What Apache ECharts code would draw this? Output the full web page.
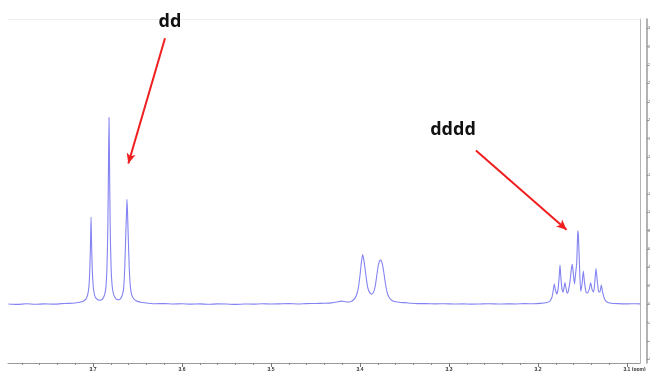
<!DOCTYPE html>
<html>
<head>
<meta charset="utf-8">
<script src="https://cdn.jsdelivr.net/npm/echarts@6/dist/echarts.min.js"></script>
<style>
  html, body { margin: 0; padding: 0; background: #fff; }
  #chart { width: 650px; height: 371px; }
</style>
</head>
<body>
<div id="chart"></div>
<script>
// 1H NMR trace: chemical shift (ppm) and intensity, read point by point
const shift = [
  3.795, 3.785, 3.775, 3.765, 3.755, 3.745, 3.735, 3.727, 3.720, 3.715,
  3.711, 3.708, 3.706, 3.7045, 3.7035, 3.7027, 3.7022, 3.7017, 3.7009, 3.6998,
  3.6985, 3.697, 3.695, 3.693, 3.691, 3.689, 3.687, 3.6855, 3.6843, 3.6833,
  3.6826, 3.682, 3.6814, 3.6807, 3.6797, 3.6785, 3.677, 3.675, 3.673, 3.671,
  3.669, 3.667, 3.6655, 3.6643, 3.6632, 3.6623, 3.6618, 3.6612, 3.6603, 3.6592,
  3.658, 3.6565, 3.654, 3.650, 3.645, 3.638, 3.630, 3.620, 3.610, 3.600,
  3.590, 3.580, 3.570, 3.560, 3.550, 3.540, 3.530, 3.520, 3.510, 3.500,
  3.490, 3.480, 3.470, 3.460, 3.450, 3.440, 3.432, 3.426, 3.421, 3.416,
  3.412, 3.409, 3.406, 3.4035, 3.4015, 3.3998, 3.3985, 3.397, 3.3955, 3.394,
  3.3925, 3.391, 3.389, 3.387, 3.385, 3.383, 3.381, 3.3795, 3.378, 3.3767,
  3.375, 3.3735, 3.372, 3.3705, 3.369, 3.367, 3.364, 3.360, 3.355, 3.349,
  3.343, 3.335, 3.325, 3.315, 3.305, 3.295, 3.285, 3.275, 3.265, 3.255,
  3.245, 3.235, 3.225, 3.215, 3.205, 3.197, 3.191, 3.187, 3.1845, 3.183,
  3.1817, 3.1805, 3.179, 3.1775, 3.1762, 3.1753, 3.1744, 3.173, 3.1718, 3.1706,
  3.1697, 3.1687, 3.1672, 3.166, 3.164, 3.1625, 3.1615, 3.1605, 3.159, 3.1583,
  3.1565, 3.1555, 3.1551, 3.1545, 3.1535, 3.152, 3.1505, 3.1491, 3.1478, 3.146,
  3.1445, 3.1425, 3.1408, 3.1393, 3.1375, 3.1362, 3.1348, 3.1335, 3.132, 3.1305,
  3.1289, 3.1272, 3.125, 3.122, 3.118, 3.110, 3.100, 3.090, 3.085
];
const intensity = [
  0.2, -0.3, 0.4, -0.2, 0.3, 0.0, 0.5, 0.8, 1.3, 2.0,
  3.2, 5.5, 10, 20, 40, 70, 94.6, 70, 40, 20,
  11, 7, 5, 4.3, 4.5, 6, 10, 18, 40, 85,
  150, 203, 150, 85, 40, 20, 11, 7, 5, 4.8,
  6, 10, 18, 40, 75, 100, 114, 100, 70, 38,
  19, 10, 5.5, 3, 1.8, 1.0, 0.4, 0.6, 0.1, 0.4,
  0.0, 0.3, -0.2, 0.3, 0.1, -0.3, 0.2, 0.0, 0.4, 0.1,
  0.3, 0.5, 0.2, 0.6, 0.7, 1.0, 1.4, 2.3, 3.3, 2.6,
  2.4, 3.5, 6, 11, 20, 33, 45, 54, 47, 36,
  25, 17, 12.5, 10.9, 12.5, 19, 32, 42, 47, 47.8,
  44, 36, 26, 17, 11, 7, 4, 2.5, 1.8, 1.6,
  1.0, 0.6, 0.5, 0.3, 0.4, 0.1, 0.3, 0.0, 0.2, 0.4,
  0.1, 0.3, 0.2, 0.5, 0.4, 0.8, 1.5, 3, 7, 14,
  21.7, 16, 11, 16, 30, 42.4, 30, 16, 13, 19,
  23.6, 18, 12, 14, 25, 38, 43.2, 35, 22, 28,
  45, 75, 79.7, 72, 45, 14, 22, 35.9, 24, 13,
  12, 16, 23.2, 16, 13, 24, 38.8, 26, 14, 13,
  20.7, 12, 5, 2, 1, 0.5, 0.3, 0.4, 0.3
];

// Axis tick positions
const ppmLabels = [3.1, 3.2, 3.3, 3.4, 3.5, 3.6, 3.7];
const ppmTicks = [
  3.10, 3.12, 3.14, 3.16, 3.18, 3.20, 3.22, 3.24, 3.26, 3.28,
  3.30, 3.32, 3.34, 3.36, 3.38, 3.40, 3.42, 3.44, 3.46, 3.48,
  3.50, 3.52, 3.54, 3.56, 3.58, 3.60, 3.62, 3.64, 3.66, 3.68,
  3.70, 3.72, 3.74, 3.76, 3.78
];
const intensityTicks = [-60, -40, -20, 0, 20, 40, 60, 80, 100, 120, 140, 160, 180, 200, 220, 240, 260, 280, 300];

// Multiplicity labels and the arrows pointing at their peaks
const multiplets = ['dd', 'dddd'];

const X_MIN = 3.0854, X_MAX = 3.7955;
const Y_MIN = -64, Y_MAX = 310;
const RED = '#f01e1e';
const TRACE = '#8383f2';

const chart = echarts.init(document.getElementById('chart'), null, { renderer: 'canvas' });

const baseX = {
  type: 'value', inverse: true, min: X_MIN, max: X_MAX,
  splitLine: { show: false }
};

chart.setOption({
  animation: false,
  backgroundColor: '#fff',
  grid: { left: 8, right: 10, top: 19, bottom: 8, containLabel: false, outerBoundsMode: 'none' },
  xAxis: [
    Object.assign({}, baseX, {
      position: 'bottom',
      axisLine: { show: true, onZero: false, lineStyle: { color: '#9a9a9a', width: 1 } },
      axisTick: { show: true, customValues: ppmTicks, length: 2, lineStyle: { color: '#8a8a8a' } },
      axisLabel: { show: false }
    }),
    Object.assign({}, baseX, {
      position: 'bottom',
      axisLine: { show: false, onZero: false },
      axisTick: { show: true, customValues: ppmLabels, length: 4, lineStyle: { color: '#777' } },
      axisLabel: {
        show: true, customValues: ppmLabels, margin: 4,
        fontSize: 5, fontWeight: 'bold', color: '#333', fontFamily: 'Arial, Liberation Sans, sans-serif',
        formatter: v => Math.abs(v - 3.1) < 1e-6 ? '{u|3.1 (ppm)}' : v.toFixed(1),
        rich: { u: { fontSize: 5, fontWeight: 'bold', color: '#333', padding: [0, 0, 0, 15] } }
      }
    }),
    Object.assign({}, baseX, {
      position: 'top',
      axisLine: { show: true, onZero: false, lineStyle: { color: '#eeeeee', width: 1 } },
      axisTick: { show: false },
      axisLabel: { show: false }
    })
  ],
  yAxis: [
    {
      type: 'value', position: 'right', offset: 7, min: Y_MIN, max: Y_MAX,
      splitLine: { show: false },
      axisLine: { show: true, onZero: false, lineStyle: { color: '#9a9a9a', width: 1.5 } },
      axisTick: { show: true, customValues: intensityTicks, length: 1.5, inside: false, lineStyle: { color: '#888' } },
      axisLabel: { show: true, customValues: intensityTicks, margin: 1, fontSize: 4, color: '#666' }
    },
    {
      type: 'value', position: 'right', offset: 0, min: Y_MIN, max: Y_MAX,
      splitLine: { show: false },
      axisLine: { show: true, onZero: false, lineStyle: { color: '#b5b5b5', width: 1 } },
      axisTick: { show: false },
      axisLabel: { show: false }
    }
  ],
  series: [{
    type: 'line',
    xAxisIndex: 0,
    yAxisIndex: 0,
    data: shift.map((s, i) => [s, intensity[i]]),
    showSymbol: false,
    smooth: 0.2,
    lineStyle: { color: TRACE, width: 1.1 },
    silent: true,
    markLine: {
      silent: true,
      symbol: ['none', 'arrow'],
      symbolSize: [7, 10],
      label: { show: false },
      lineStyle: { color: RED, width: 2, type: 'solid' },
      data: [
        [{ coord: [3.6191, 289] }, { coord: [3.6603, 153] }],
        [{ coord: [3.2697, 167] }, { coord: [3.1679, 81] }]
      ]
    },
    markPoint: {
      silent: true,
      symbol: 'circle',
      symbolSize: 0,
      label: {
        show: true, position: 'inside', color: '#111', fontWeight: 'bold',
        fontSize: 18, fontFamily: '"Open Sans", Arial, sans-serif'
      },
      data: [
        { coord: [3.6135, 307], label: { formatter: multiplets[0] } },
        { coord: [3.2955, 189], label: { formatter: multiplets[1] } }
      ]
    }
  }]
});
</script>
</body>
</html>
